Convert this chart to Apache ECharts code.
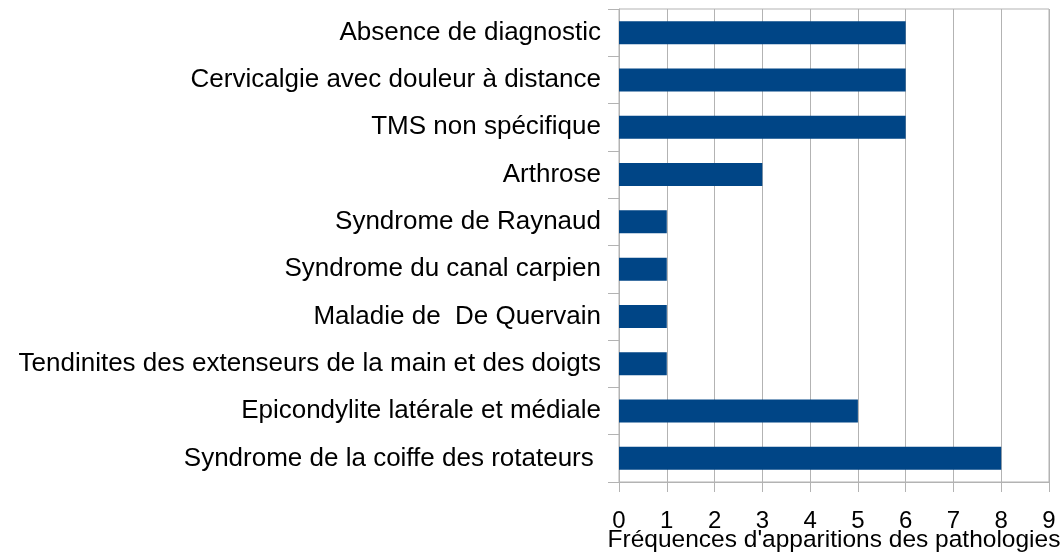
<!DOCTYPE html>
<html>
<head>
<meta charset="utf-8">
<script src="https://cdn.jsdelivr.net/npm/echarts@6/dist/echarts.min.js"></script>
<style>
html, body { margin: 0; padding: 0; background: #fff; }
#main { width: 1064px; height: 554px; }
</style>
</head>
<body>
<div id="main"></div>
<script>
// categories from top to bottom
var pathologies = [
	'Absence de diagnostic',
	'Cervicalgie avec douleur à distance',
	'TMS non spécifique',
	'Arthrose',
	'Syndrome de Raynaud',
	'Syndrome du canal carpien',
	'Maladie de  De Quervain',
	'Tendinites des extenseurs de la main et des doigts',
	'Epicondylite latérale et médiale',
	'Syndrome de la coiffe des rotateurs '
];
var frequences = [6, 6, 6, 3, 1, 1, 1, 1, 5, 8];
var xTicks = [0, 1, 2, 3, 4, 5, 6, 7, 8, 9];

var chart = echarts.init(document.getElementById('main'));
var gris = '#b3b3b3';
var police = '"Liberation Sans", Arial, sans-serif';

var option = {
	animation: false,
	grid: {
		left: 619,
		right: 15,
		top: 9,
		bottom: 72,
		outerBoundsMode: 'none',
		containLabel: false,
		show: true,
		borderColor: gris,
		borderWidth: 1
	},
	xAxis: {
		type: 'value',
		min: xTicks[0],
		max: xTicks[xTicks.length - 1],
		interval: 1,
		name: "Fréquences d'apparitions des pathologies",
		nameLocation: 'middle',
		nameGap: 46,
		nameMoveOverlap: false,
		nameTextStyle: { fontFamily: police, fontSize: 24.5, color: '#000' },
		axisLine: { show: true, lineStyle: { color: gris } },
		axisTick: { show: true, length: 10, lineStyle: { color: gris } },
		axisLabel: { fontFamily: police, fontSize: 24, color: '#000', margin: 27 },
		splitLine: { show: true, lineStyle: { color: gris } }
	},
	yAxis: {
		type: 'category',
		inverse: true,
		data: pathologies,
		axisLine: { show: true, lineStyle: { color: gris } },
		axisTick: { show: true, length: 11, lineStyle: { color: gris } },
		axisLabel: { fontFamily: police, fontSize: 26, color: '#000', margin: 18 },
		splitLine: { show: false }
	},
	series: [{
		type: 'bar',
		data: frequences,
		barWidth: 23,
		itemStyle: { color: '#004586' }
	}]
};
chart.setOption(option);
</script>
</body>
</html>
